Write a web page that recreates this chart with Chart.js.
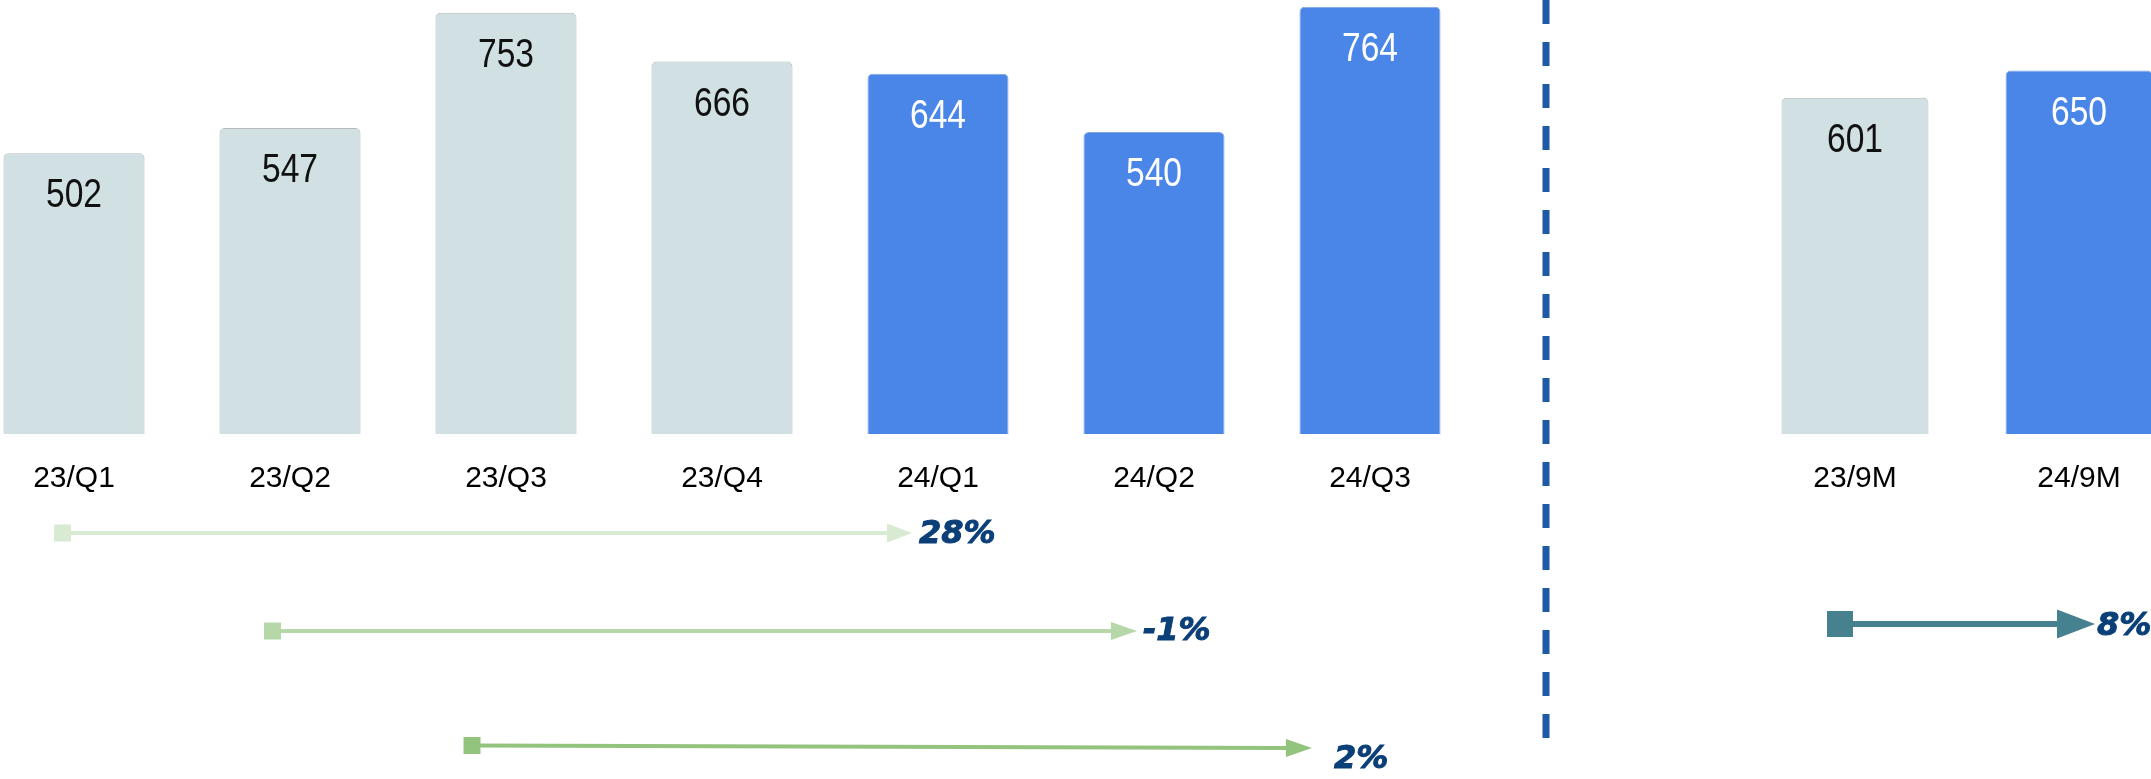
<!DOCTYPE html>
<html>
<head>
<meta charset="utf-8">
<script src="https://cdn.jsdelivr.net/npm/chart.js@4.4.1/dist/chart.umd.min.js"></script>
<style>
  html, body { margin: 0; padding: 0; background: #fff; overflow: hidden; }
  body { width: 2151px; height: 779px; position: relative; }
  #leftWrap { position: absolute; left: -34px; top: 0; width: 1512px; height: 779px; }
  #rightWrap { position: absolute; left: 1500px; top: 0; width: 691px; height: 779px; }
</style>
</head>
<body>
<div id="leftWrap"><canvas id="quarterChart"></canvas></div>
<div id="rightWrap"><canvas id="ytdChart"></canvas></div>
<script>
// Quarterly values
const quarterLabels = ['23/Q1', '23/Q2', '23/Q3', '23/Q4', '24/Q1', '24/Q2', '24/Q3'];
const quarterValues = [502, 547, 753, 666, 644, 540, 764];

// Nine-month totals
const ytdLabels = ['23/9M', '24/9M'];
const ytdValues = [601, 650];

// Year-over-year comparisons: [from index, to index] and the growth shown
const quarterPairs = [[0, 4], [1, 5], [2, 6]];
const quarterGrowth = ['28%', '-1%', '2%'];
const ytdPairs = [[0, 1]];
const ytdGrowth = ['8%'];

const Y_MAX = 776;
const GREY = '#d0e0e3';
const BLUE = '#4a86e8';
const NAVY = '#0b3f78';
const TEXT_FONT = '"Liberation Sans", Arial, sans-serif';

// arrow styles, one per comparison (offsets are relative to the bar centres)
const quarterArrowStyles = [
    { color: '#d9ead3', y0: 533, y1: 533, lw: 4, marker: 17, headW: 25, headH: 19, startOff: -11.5, endOff: -26, gap: 7, labelY: 535 },
    { color: '#b6d7a8', y0: 631, y1: 631, lw: 4, marker: 17, headW: 26, headH: 18, startOff: -17.5, endOff: -17, gap: 6, labelY: 632 },
    { color: '#93c47d', y0: 745.5, y1: 748, lw: 4, marker: 17, headW: 26, headH: 18, startOff: -34, endOff: -58, gap: 22, labelY: 760 }
];
const ytdArrowStyles = [
    { color: '#45818e', y0: 624, y1: 624, lw: 6, marker: 26, headW: 38, headH: 29, startOff: -15, endOff: 16, gap: 2, labelY: 627 }
];

const barColor = (label) => label.startsWith('23') ? GREY : BLUE;
const barBorder = (label) => label.startsWith('23') ? '#b5b9ba' : '#7fa4e0';

// Value labels inside the bars (narrowed horizontally, like a condensed face)
const valueLabels = {
    id: 'valueLabels',
    afterDatasetsDraw(chart) {
        const { ctx } = chart;
        const labels = chart.data.labels;
        const ds = chart.data.datasets[0];
        const squeeze = 0.84;
        chart.getDatasetMeta(0).data.forEach((bar, i) => {
            ctx.save();
            ctx.font = '40px ' + TEXT_FONT;
            ctx.fillStyle = labels[i].startsWith('23') ? '#111111' : '#ffffff';
            ctx.textAlign = 'center';
            ctx.textBaseline = 'middle';
            ctx.translate(bar.x, bar.y + 43);
            ctx.scale(squeeze, 1);
            ctx.fillText(ds.data[i], 0, 0);
            ctx.restore();
        });
    }
};

// Growth arrows below the axis
const growthArrows = {
    id: 'growthArrows',
    afterDraw(chart, args, opts) {
        const { ctx } = chart;
        const xs = chart.scales.x;
        opts.pairs.forEach(([from, to], k) => {
            const s = opts.styles[k];
            const sx = xs.getPixelForValue(from) + s.startOff;
            const tip = xs.getPixelForValue(to) + s.endOff;
            const baseX = tip - s.headW;
            const yAt = (x) => s.y0 + (s.y1 - s.y0) * (x - sx) / (tip - sx);
            ctx.save();
            ctx.strokeStyle = s.color;
            ctx.fillStyle = s.color;
            ctx.lineWidth = s.lw;
            ctx.beginPath();
            ctx.moveTo(sx, s.y0);
            ctx.lineTo(baseX, yAt(baseX));
            ctx.stroke();
            ctx.fillRect(sx - s.marker / 2, s.y0 - s.marker / 2, s.marker, s.marker);
            const hy = yAt(baseX);
            ctx.beginPath();
            ctx.moveTo(baseX, hy - s.headH / 2);
            ctx.lineTo(tip, s.y1);
            ctx.lineTo(baseX, hy + s.headH / 2);
            ctx.closePath();
            ctx.fill();
            ctx.font = 'italic bold 32px "DejaVu Sans", sans-serif';
            ctx.fillStyle = NAVY;
            ctx.strokeStyle = NAVY;
            ctx.lineWidth = 1;
            ctx.textAlign = 'left';
            ctx.textBaseline = 'middle';
            ctx.fillText(opts.labels[k], tip + s.gap, s.labelY);
            ctx.strokeText(opts.labels[k], tip + s.gap, s.labelY);
            ctx.restore();
        });
    }
};

// Dashed divider between quarters and nine-month totals
const divider = {
    id: 'divider',
    beforeDraw(chart, args, opts) {
        const { ctx } = chart;
        ctx.save();
        ctx.strokeStyle = '#1e5aa5';
        ctx.lineWidth = 7;
        ctx.setLineDash([24, 18]);
        ctx.beginPath();
        ctx.moveTo(opts.x, 0);
        ctx.lineTo(opts.x, opts.bottom);
        ctx.stroke();
        ctx.restore();
    }
};

function makeChart(canvasId, labels, values, barPct, padLeft, pairs, growth, styles, extraPlugins, extraOpts) {
    return new Chart(document.getElementById(canvasId), {
        type: 'bar',
        data: {
            labels: labels,
            datasets: [{
                data: values,
                backgroundColor: labels.map(barColor),
                borderColor: labels.map(barBorder),
                borderWidth: 1,
                borderRadius: 5,
                borderSkipped: 'bottom',
                barPercentage: barPct,
                categoryPercentage: 1.0
            }]
        },
        plugins: [valueLabels, growthArrows].concat(extraPlugins),
        options: {
            responsive: true,
            maintainAspectRatio: false,
            animation: false,
            layout: { padding: { left: padLeft, right: 0, top: 0, bottom: 0 } },
            plugins: Object.assign({
                legend: { display: false },
                tooltip: { enabled: false },
                growthArrows: { pairs: pairs, labels: growth, styles: styles }
            }, extraOpts),
            scales: {
                x: {
                    grid: { display: false },
                    border: { display: false },
                    ticks: {
                        color: '#000',
                        padding: 19,
                        font: { family: TEXT_FONT, size: 30 }
                    },
                    afterFit: (scale) => { scale.height = 345; }
                },
                y: {
                    display: false,
                    min: 0,
                    max: Y_MAX
                }
            }
        }
    });
}

makeChart('quarterChart', quarterLabels, quarterValues, 0.653, 0,
    quarterPairs, quarterGrowth, quarterArrowStyles, [], {});
makeChart('ytdChart', ytdLabels, ytdValues, 0.656, 243,
    ytdPairs, ytdGrowth, ytdArrowStyles, [divider], { divider: { x: 46, bottom: 738 } });
</script>
</body>
</html>
